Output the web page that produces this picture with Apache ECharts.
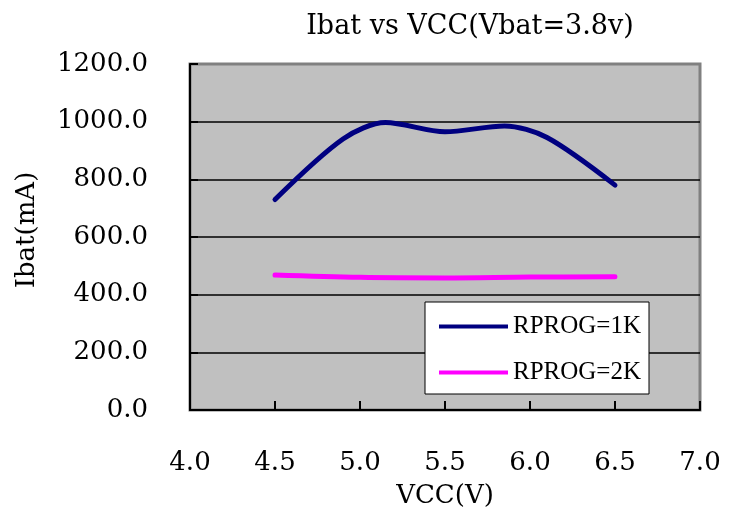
<!DOCTYPE html>
<html>
<head>
<meta charset="utf-8">
<script src="https://cdn.jsdelivr.net/npm/echarts@6/dist/echarts.min.js"></script>
<style>
  html, body { margin: 0; padding: 0; background: #fff; }
  #chart { width: 738px; height: 518px; }
</style>
</head>
<body>
<div id="chart"></div>
<script>
// values
const vcc1k = [4.5, 4.9, 5.15, 5.5, 5.85, 6.1, 6.5];
const ibat1k = [730, 940, 997, 965, 985, 945, 780];
const vcc2k = [4.5, 5.0, 5.5, 6.0, 6.5];
const ibat2k = [468, 460, 458, 461, 462];
const seriesNames = ["RPROG=1K", "RPROG=2K"];

const FONT = "DejaVu Serif";
const LEGEND_FONT = "Liberation Serif";

function pairs(xs, ys) {
  return xs.map((x, i) => [x, ys[i]]);
}

var chart = echarts.init(document.getElementById("chart"));

var option = {
  backgroundColor: "#fff",
  animation: false,
  title: {
    text: "Ibat vs VCC(Vbat=3.8v)",
    left: 465,
    top: 8,
    textAlign: "center",
    textStyle: { fontFamily: FONT, fontSize: 27, fontWeight: "normal", color: "#000" },
  },
  grid: {
    left: 190,
    right: 38,
    top: 64,
    bottom: 108,
    show: true,
    backgroundColor: "#c0c0c0",
    borderColor: "#808080",
    borderWidth: 3,
  },
  legend: {
    orient: "vertical",
    left: 425,
    top: 302,
    padding: [12, 8, 9, 14],
    itemGap: 21,
    itemWidth: 69,
    itemHeight: 4,
    icon: "rect",
    backgroundColor: "#fff",
    borderColor: "#000",
    borderWidth: 1,
    data: seriesNames,
    textStyle: { fontFamily: LEGEND_FONT, fontSize: 25, color: "#000" },
  },
  xAxis: {
    type: "value",
    min: 4,
    max: 7,
    interval: 0.5,
    name: "VCC(V)",
    nameLocation: "middle",
    nameGap: 73,
    nameTextStyle: { fontFamily: FONT, fontSize: 26, color: "#000" },
    axisLine: { lineStyle: { color: "#000", width: 2 } },
    axisTick: { inside: true, length: 9, lineStyle: { color: "#000", width: 2 } },
    axisLabel: {
      margin: 40,
      fontFamily: FONT,
      fontSize: 26,
      color: "#000",
      formatter: (v) => v.toFixed(1),
    },
    splitLine: { show: false },
  },
  yAxis: {
    type: "value",
    min: 0,
    max: 1200,
    interval: 200,
    name: "Ibat(mA)",
    nameLocation: "middle",
    nameGap: 150,
    nameTextStyle: { fontFamily: FONT, fontSize: 26, color: "#000", padding: [0, 0, 0, 14] },
    axisLine: { show: true, lineStyle: { color: "#000", width: 2 } },
    axisTick: { show: true, inside: true, length: 8, lineStyle: { color: "#000", width: 2 } },
    axisLabel: {
      margin: 42,
      fontFamily: FONT,
      fontSize: 26,
      color: "#000",
      formatter: (v) => v.toFixed(1),
    },
    splitLine: {
      show: true,
      showMinLine: false,
      showMaxLine: false,
      lineStyle: { color: "#000", width: 1.5 },
    },
  },
  series: [
    {
      name: seriesNames[0],
      type: "line",
      smooth: 0.3,
      symbol: "none",
      data: pairs(vcc1k, ibat1k),
      lineStyle: { color: "#000080", width: 5, cap: "round" },
      itemStyle: { color: "#000080" },
    },
    {
      name: seriesNames[1],
      type: "line",
      smooth: 0.35,
      symbol: "none",
      data: pairs(vcc2k, ibat2k),
      lineStyle: { color: "#ff00ff", width: 5, cap: "round" },
      itemStyle: { color: "#ff00ff" },
    },
  ],
};

option && chart.setOption(option);
</script>
</body>
</html>
